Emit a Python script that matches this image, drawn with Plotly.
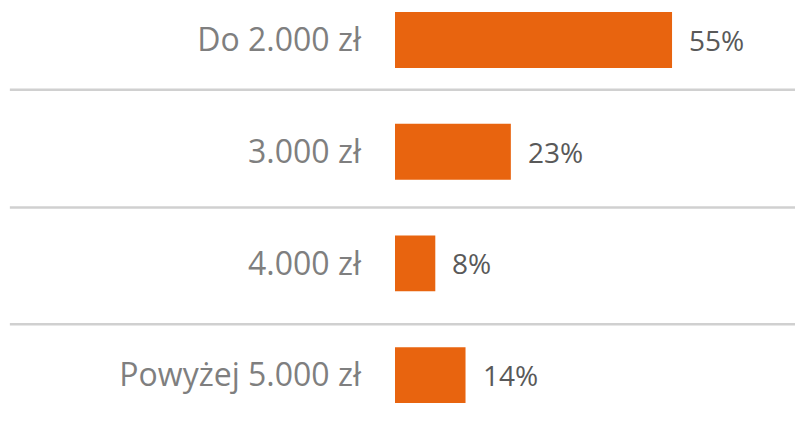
import plotly.graph_objects as go

categories = ["Do 2.000 zł", "3.000 zł", "4.000 zł", "Powyżej 5.000 zł"]
values = [55, 23, 8, 14]
value_labels = ["55%", "23%", "8%", "14%"]
separators = [0.446, 1.5, 2.545]

BAR = "#E8640F"

fig = go.Figure(go.Bar(
    y=categories, x=values, orientation="h",
    marker=dict(color=BAR, line=dict(width=0)),
    width=0.5,
    hoverinfo="skip",
))

for c, v, t in zip(categories, values, value_labels):
    fig.add_annotation(x=v, y=c, text=t, xanchor="left", yanchor="middle",
                       xshift=15, yshift=0, showarrow=False,
                       font=dict(family="Open Sans", size=28, color="#595959"))

for s in separators:
    fig.add_shape(type="line", xref="paper", yref="y",
                  x0=-0.944, x1=1.0, y0=s, y1=s,
                  line=dict(color="#D0D0D0", width=2.5), layer="below")

fig.update_layout(
    width=795, height=431,
    margin=dict(l=387, r=0, t=0, b=0, autoexpand=False),
    plot_bgcolor="white", paper_bgcolor="white",
    showlegend=False,
    xaxis=dict(range=[0, 81], visible=False, automargin=False),
    yaxis=dict(
        range=[3.572, -0.2865], type="category", automargin=False,
        showgrid=False, zeroline=False, showline=False,
        ticks="", ticklabelstandoff=33,
        tickfont=dict(family="Open Sans", size=32, color="#7F7F7F"),
    ),
)

fig.write_html("out.html")
